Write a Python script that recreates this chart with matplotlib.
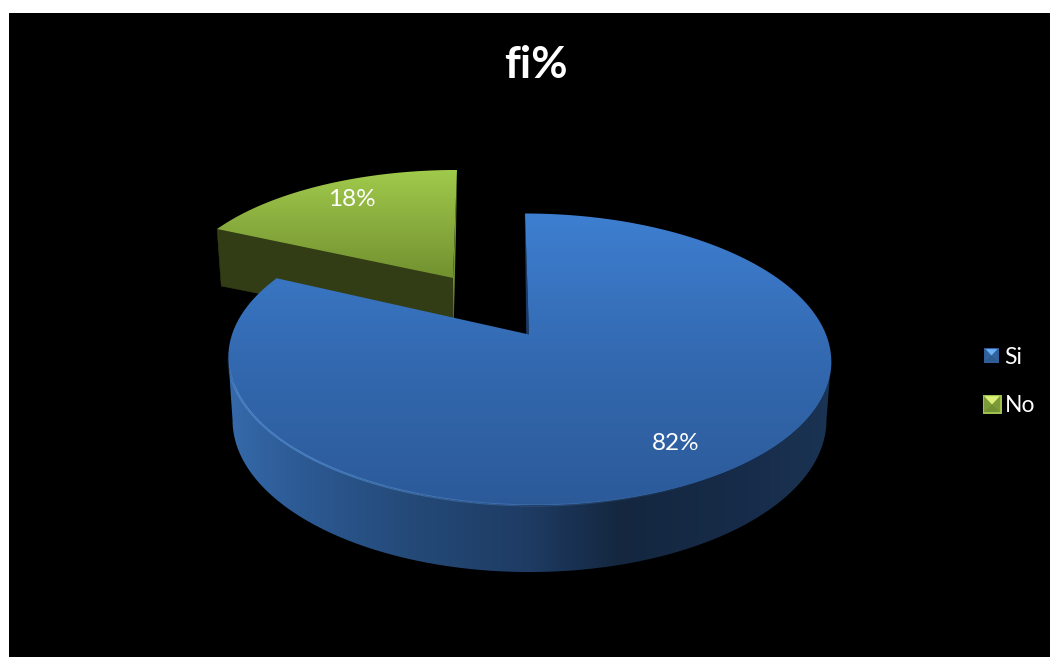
import numpy as np
import matplotlib
matplotlib.use("Agg")
import matplotlib.pyplot as plt
from matplotlib.collections import LineCollection
from matplotlib.colors import LinearSegmentedColormap, to_rgb
from matplotlib.patches import PathPatch, Polygon, Rectangle
from matplotlib.path import Path

# Chart data
title = "fi%"
categories = ["Si", "No"]
shares = [82, 18]

W, H = 1050, 657
plt.rcParams["font.family"] = ["Lato", "DejaVu Sans"]

fig = plt.figure(figsize=(W / 100, H / 100), dpi=100, facecolor="white")
ax = fig.add_axes([0, 0, 1, 1])
ax.axis("off")
ax.add_patch(Rectangle((9, 13), W - 9, H - 13, facecolor="black", edgecolor="none", zorder=0))


def project(theta_deg, ax_x, ax_y, radius, rise, persp, shear):
    """Perspective projection of a point on the pie rim; theta runs clockwise from 12 o'clock."""
    t = np.radians(theta_deg)
    u, v = np.sin(t), np.cos(t)
    w = 1 + persp * v
    up = rise * v / w
    return ax_x + radius * u / w + shear * up, ax_y - up


def gradient_fill(vertices, stops, zorder, horizontal=False):
    """Fill a polygon with a linear gradient, given (pixel position, colour) stops."""
    verts = np.asarray(vertices)
    path = Path(np.vstack([verts, verts[0]]), closed=True)
    clip = PathPatch(path, facecolor="none", edgecolor="none", transform=ax.transData, zorder=zorder)
    ax.add_patch(clip)
    lo = min(p for p, _ in stops)
    hi = max(p for p, _ in stops)
    cmap = LinearSegmentedColormap.from_list(
        "g", [((p - lo) / (hi - lo), c) for p, c in stops], N=512
    )
    ramp = np.linspace(0, 1, 512)
    ramp = ramp[None, :] if horizontal else ramp[:, None]
    extent = (lo, hi, 657, 0) if horizontal else (0, W, hi, lo)
    im = ax.imshow(ramp, cmap=cmap, extent=extent, aspect="auto", origin="upper",
                   zorder=zorder, interpolation="bilinear")
    im.set_clip_path(clip)


split = 360 * shares[0] / sum(shares)

# Slice geometry: top face and bottom face of each exploded slice
blue_top = dict(ax_x=529.0, ax_y=334.5, radius=297.0, rise=141.7, persp=0.171, shear=-0.033)
blue_low = dict(ax_x=529.5, ax_y=394.0, radius=292.6, rise=147.6, persp=0.171, shear=0.0)
green_top = dict(ax_x=453.0, ax_y=278.0, radius=276.0, rise=120.9, persp=0.119, shear=0.037)
green_low = dict(ax_x=453.5, ax_y=332.0, radius=271.0, rise=113.5, persp=0.119, shear=0.025)

th_green = np.linspace(split, 360, 120)
th_blue = np.linspace(0, split, 500)

# No slice: cut face, inner sliver, then top
gx, gy = project(th_green, **green_top)
lx, ly = project(th_green, **green_low)
ax.add_patch(Polygon([(gx[0], gy[0]), (green_top["ax_x"], green_top["ax_y"]),
                      (green_low["ax_x"], green_low["ax_y"]), (lx[0], ly[0])],
                     facecolor="#333d15", edgecolor="#333d15", linewidth=0.4, zorder=2))
ax.add_patch(Polygon([(gx[-1], gy[-1]), (green_top["ax_x"], green_top["ax_y"]),
                      (green_low["ax_x"], green_low["ax_y"]), (lx[-1], ly[-1])],
                     facecolor="#6f8f32", edgecolor="none", zorder=2))
gradient_fill(
    list(zip(gx, gy)) + [(green_top["ax_x"], green_top["ax_y"])],
    [(170, "#a0ca4b"), (225, "#89ac3e"), (280, "#71902f")], zorder=3,
)

# Si slice: outer wall between the two silhouette tangents, radial sliver, top
bx, by = project(th_blue, **blue_top)
tangent = np.degrees(np.arccos(blue_top["persp"]))
th_wall = np.linspace(90 + (90 - tangent), 270 - (90 - tangent), 300)
tx_arc, ty_arc = project(th_wall, **blue_top)
wx, wy = project(th_wall, **blue_low)
gradient_fill(
    list(zip(tx_arc, ty_arc)) + list(zip(wx[::-1], wy[::-1])),
    [(228, "#366aab"), (300, "#2c5a94"), (400, "#254b7a"), (530, "#1e3b63"),
     (620, "#14273f"), (750, "#172c4a"), (832, "#1b3453")],
    zorder=4, horizontal=True,
)
ax.add_patch(Polygon([(bx[0], by[0]), (blue_top["ax_x"], blue_top["ax_y"]),
                      (526.3, 335.5), (bx[0] - 0.2, by[0] + 2)],
                     facecolor="#1c3c68", edgecolor="none", zorder=4))
gradient_fill(
    list(zip(bx, by)) + [(blue_top["ax_x"], blue_top["ax_y"])],
    [(213, "#3e7fd1"), (360, "#3369b0"), (505, "#2c5a99")], zorder=5,
)

# Soft highlight along the front rim of the top face
rim = (th_blue > 150) & (th_blue < 262)
pts = np.column_stack([bx[rim], by[rim]])
segs = np.stack([pts[:-1], pts[1:]], axis=1)
fade = np.clip((th_blue[rim][:-1] - 150) / 70, 0, 1) * np.clip((262 - th_blue[rim][:-1]) / 15, 0, 1)
rim_rgba = np.tile((*to_rgb("#5f9be0"), 1.0), (len(segs), 1))
rim_rgba[:, 3] = fade * 0.6
ax.add_collection(LineCollection(segs, colors=rim_rgba, linewidths=1.6, zorder=6))

# Value labels
ax.text(352, 200, f"{shares[1]}%", color="white", fontsize=17.5, ha="center", va="center", zorder=7)
ax.text(676, 444, f"{shares[0]}%", color="white", fontsize=17.5, ha="center", va="center", zorder=7)

# Title
ax.text(535.5, 65, title, color="white", fontsize=32, fontweight="bold", ha="center", va="center", zorder=7)


def legend_key(x0, y0, size, border, light, mid, dark):
    """Bevelled square legend key with a bright top facet."""
    x1, y1 = x0 + size, y0 + size
    cx, cy = (x0 + x1) / 2, (y0 + y1) / 2 + 0.5
    ax.add_patch(Rectangle((x0, y0), size, size, facecolor=border, edgecolor="none", zorder=7))
    i = 1.6
    ax.add_patch(Rectangle((x0 + i, y0 + i), size - 2 * i, size - 2 * i, facecolor=mid, edgecolor="none", zorder=8))
    ax.add_patch(Polygon([(x0 + i, y0 + i), (x1 - i, y0 + i), (cx, cy)], facecolor=light, edgecolor="none", zorder=9))
    ax.add_patch(Polygon([(x0 + i, y1 - i), (x1 - i, y1 - i), (cx, cy)], facecolor=dark, edgecolor="none", zorder=9))


legend_keys = [
    dict(x0=984, y0=347.5, size=15, border="#2f5e98", light="#6cb2f6", mid="#33639d", dark="#2e5a92"),
    dict(x0=982.5, y0=394.5, size=19, border="#9cc14c", light="#dcf078", mid="#7c9a38", dark="#728f32"),
]
legend_y = [357, 405]
legend_x = [1004, 1005]
for name, key, tx, ty in zip(categories, legend_keys, legend_x, legend_y):
    legend_key(**key)
    ax.text(tx, ty, name, color="white", fontsize=16.5, ha="left", va="center", zorder=9)

ax.set_xlim(0, W)
ax.set_ylim(H, 0)
fig.savefig("out.png", dpi=100, facecolor="white")
